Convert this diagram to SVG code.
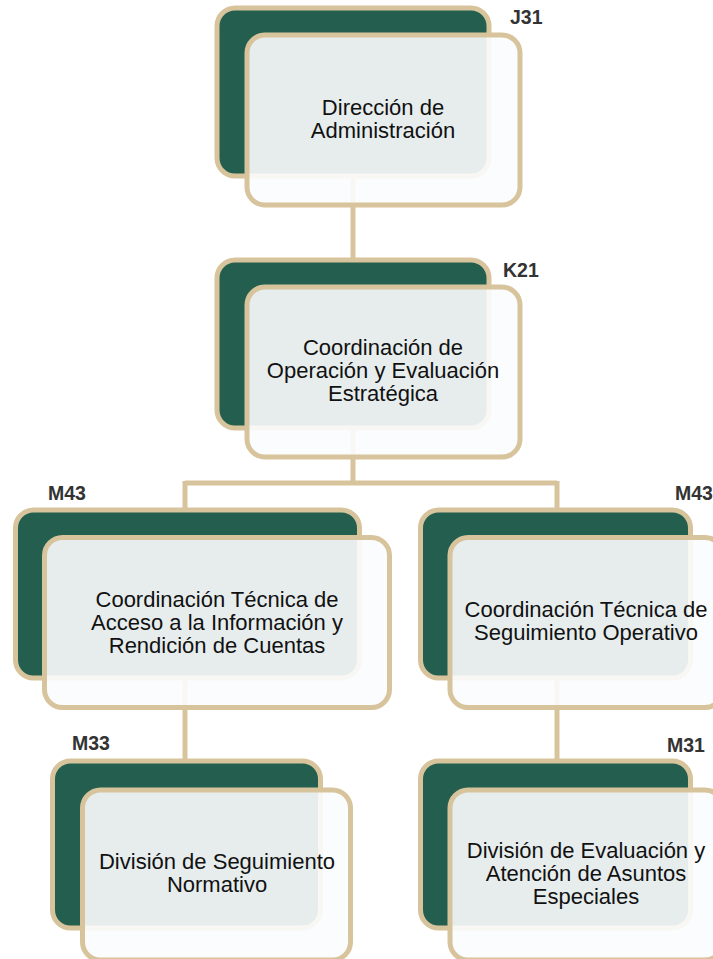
<svg xmlns="http://www.w3.org/2000/svg" width="713" height="959" viewBox="0 0 713 959">
<style>
.back{fill:#235e4e;stroke:#d8c49c;stroke-width:5}
.front{fill:#fbfcfd;fill-opacity:0.91;stroke:#d8c49c;stroke-width:5}
.t{font-family:"Liberation Sans",Arial,sans-serif;font-size:22px;fill:#111;text-anchor:middle}
.code{font-family:"Liberation Sans",Arial,sans-serif;font-size:19.5px;font-weight:bold;fill:#333}
.conn{stroke:#d8c49c;stroke-width:5;fill:none}
</style>
<rect width="713" height="959" fill="#ffffff"/>
<g id="connectors">
<path class="conn" d="M353,176 V260"/>
<path class="conn" d="M353,428 V483 M185,483 H557 M185,481 V510 M557,481 V510"/>
<path class="conn" d="M185,678 V761"/>
<path class="conn" d="M557,678 V761"/>
</g>
<g id="j31">
<rect class="back" x="217" y="8" width="272" height="168" rx="18"/>
<rect class="front" x="247" y="35" width="273" height="170" rx="18"/>
<text class="t"><tspan x="383" y="115">Dirección de</tspan><tspan x="383" y="138">Administración</tspan></text>
<text class="code" x="510" y="24">J31</text>
</g>
<g id="k21">
<rect class="back" x="217" y="260" width="272" height="168" rx="18"/>
<rect class="front" x="247" y="287" width="273" height="170" rx="18"/>
<text class="t"><tspan x="383" y="355">Coordinación de</tspan><tspan x="383" y="378">Operación y Evaluación</tspan><tspan x="383" y="401">Estratégica</tspan></text>
<text class="code" x="503" y="277">K21</text>
</g>
<g id="m43a">
<rect class="back" x="15.5" y="510" width="344" height="168" rx="18"/>
<rect class="front" x="44.5" y="537.5" width="345" height="170" rx="18"/>
<text class="t"><tspan x="217" y="607">Coordinación Técnica de</tspan><tspan x="217" y="630">Acceso a la Información y</tspan><tspan x="217" y="653">Rendición de Cuentas</tspan></text>
<text class="code" x="48" y="500">M43</text>
</g>
<g id="m43b">
<rect class="back" x="420.5" y="510" width="270" height="168" rx="18"/>
<rect class="front" x="450" y="537.5" width="273" height="170" rx="18"/>
<text class="t"><tspan x="586" y="617">Coordinación Técnica de</tspan><tspan x="586" y="640">Seguimiento Operativo</tspan></text>
<text class="code" x="675" y="500">M43</text>
</g>
<g id="m33">
<rect class="back" x="52.5" y="761" width="268" height="167" rx="18"/>
<rect class="front" x="82.5" y="790" width="268" height="170" rx="18"/>
<text class="t"><tspan x="217" y="869">División de Seguimiento</tspan><tspan x="217" y="892">Normativo</tspan></text>
<text class="code" x="72" y="750">M33</text>
</g>
<g id="m31">
<rect class="back" x="420.5" y="761" width="270" height="167" rx="18"/>
<rect class="front" x="450" y="790" width="273" height="170" rx="18"/>
<text class="t"><tspan x="586" y="858">División de Evaluación y</tspan><tspan x="586" y="881">Atención de Asuntos</tspan><tspan x="586" y="904">Especiales</tspan></text>
<text class="code" x="667" y="752">M31</text>
</g>
</svg>
